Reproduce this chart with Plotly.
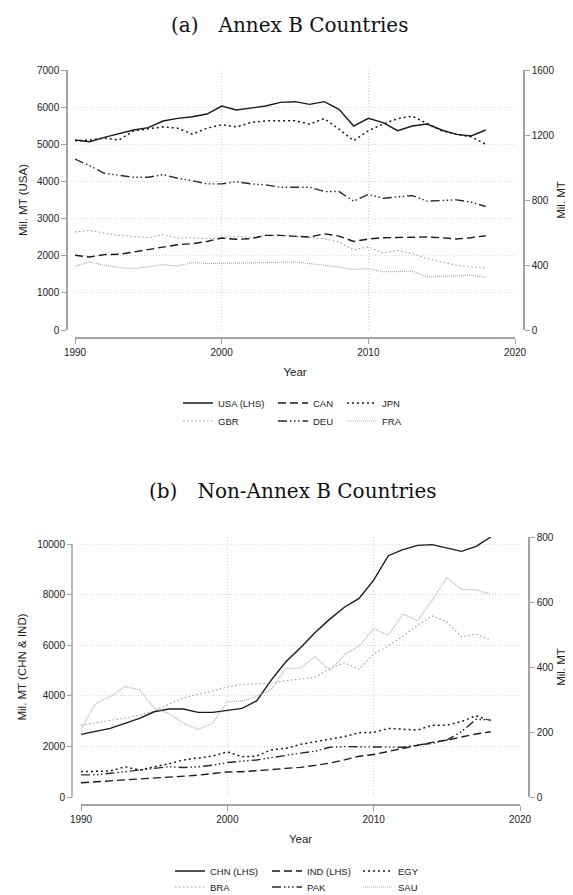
import plotly.graph_objects as go

# The page body has an 8px margin, so the figure is drawn 8px in from the
# top-left corner of the 573x895 window; positions below are window pixels.
OFF = 8
W, H = 573 - OFF, 895 - OFF


def px(x):
    return (x - OFF) / W


def py(y):
    return 1 - (y - OFF) / H


years = [1990, 1991, 1992, 1993, 1994, 1995, 1996, 1997, 1998, 1999,
         2000, 2001, 2002, 2003, 2004, 2005, 2006, 2007, 2008, 2009,
         2010, 2011, 2012, 2013, 2014, 2015, 2016, 2017, 2018]

# ---- (a) Annex B countries (USA on LHS, others on RHS) ----
usa = [5115, 5070, 5187, 5295, 5385, 5447, 5627, 5698, 5743, 5815,
       6030, 5923, 5968, 6030, 6129, 6147, 6075, 6147, 5941, 5492,
       5698, 5582, 5366, 5492, 5546, 5385, 5268, 5223, 5385]
can = [460, 449, 464, 466, 480, 496, 511, 525, 531, 545,
       566, 558, 562, 582, 582, 578, 572, 592, 578, 545,
       560, 568, 570, 572, 572, 568, 560, 568, 580]
jpn = [1165, 1169, 1181, 1169, 1226, 1236, 1250, 1242, 1205, 1242,
       1263, 1250, 1277, 1287, 1287, 1287, 1267, 1301, 1236, 1165,
       1226, 1267, 1301, 1316, 1271, 1226, 1205, 1189, 1144]
gbr = [603, 613, 597, 582, 576, 568, 588, 566, 568, 562,
       566, 578, 568, 582, 582, 576, 572, 562, 541, 494,
       511, 474, 490, 470, 439, 419, 398, 388, 382]
deu = [1052, 1011, 964, 954, 940, 940, 956, 934, 919, 899,
       899, 913, 899, 893, 878, 878, 878, 852, 852, 793,
       834, 811, 817, 827, 793, 797, 801, 787, 760]
fra = [392, 419, 398, 384, 378, 388, 402, 394, 415, 409,
       409, 409, 413, 415, 417, 419, 409, 398, 388, 372,
       378, 358, 358, 362, 327, 331, 333, 337, 323]

# ---- (b) Non-Annex B countries (CHN & IND on LHS, others on RHS) ----
chn = [2476, 2580, 2712, 2910, 3107, 3370, 3476, 3476, 3344, 3344,
       3437, 3502, 3800, 4620, 5345, 5900, 6500, 7030, 7500, 7850,
       8570, 9538, 9775, 9947, 9974, 9841, 9709, 9907, 10277]
ind = [565, 600, 635, 660, 700, 737, 790, 830, 860, 930,
       990, 1000, 1027, 1080, 1133, 1170, 1250, 1340, 1470, 1610,
       1680, 1800, 1930, 2050, 2160, 2250, 2380, 2490, 2580]
egy = [78, 78, 80, 93, 83, 93, 102, 114, 121, 126,
       139, 124, 126, 145, 150, 162, 170, 178, 186, 198,
       199, 211, 208, 206, 221, 221, 232, 250, 234]
bra = [221, 228, 235, 243, 252, 265, 285, 305, 316, 326,
       339, 346, 348, 350, 358, 362, 368, 396, 413, 393,
       440, 465, 495, 529, 557, 539, 493, 501, 483]
pak = [68, 68, 73, 78, 85, 88, 93, 91, 93, 98,
       106, 110, 114, 121, 129, 135, 141, 153, 155, 154,
       153, 153, 153, 160, 165, 175, 201, 239, 237]
sau = [208, 288, 309, 340, 330, 273, 257, 227, 208, 227,
       293, 295, 310, 330, 396, 397, 432, 389, 437, 465,
       517, 498, 563, 543, 606, 675, 639, 637, 624]

x_ticks = [1990, 2000, 2010, 2020]
yl_ticks_b = [0, 2000, 4000, 6000, 8000, 10000]

SOLID = dict(color="#1a1a1a", dash="solid", width=1.4)
LDASH = dict(color="#1a1a1a", dash="8px,4px", width=1.4)
DOT = dict(color="#1a1a1a", dash="2px,3px", width=1.5)
GDOT = dict(color="#9a9a9a", dash="1.5px,2.5px", width=1.1)
DDOT = dict(color="#2a2a2a", dash="9px,3px,1.5px,2.5px,1.5px,2.5px,1.5px,3px", width=1.4)
FDOT = dict(color="#aaaaaa", dash="1px,1px", width=1.2)

fig = go.Figure()

# legend slot for each series: (legend id, text-start px, row-centre px)
legend_slots = {}


def add(name, y, xa, ya, style, leg, tx, ty):
    fig.add_trace(go.Scatter(x=years, y=y, name=name, mode="lines",
                             xaxis=xa, yaxis=ya, line=style, legend=leg))
    legend_slots[leg] = (tx, ty)


add("USA (LHS)", usa, "x", "y", SOLID, "legend", 218, 403)
add("GBR", gbr, "x", "y2", GDOT, "legend2", 218, 421)
add("CAN", can, "x", "y2", LDASH, "legend3", 313, 403)
add("DEU", deu, "x", "y2", DDOT, "legend4", 313, 421)
add("JPN", jpn, "x", "y2", DOT, "legend5", 382, 403)
add("FRA", fra, "x", "y2", FDOT, "legend6", 382, 421)

add("CHN (LHS)", chn, "x3", "y3", SOLID, "legend7", 210, 871)
add("BRA", bra, "x3", "y4", GDOT, "legend8", 210, 887)
add("IND (LHS)", ind, "x3", "y3", LDASH, "legend9", 307, 871)
add("PAK", pak, "x3", "y4", DDOT, "legend10", 307, 887)
add("EGY", egy, "x3", "y4", DOT, "legend11", 398, 871)
add("SAU", sau, "x3", "y4", FDOT, "legend12", 398, 887)

SANS = "Liberation Sans, Arial, sans-serif"
AX = dict(showline=True, linecolor="#a3a3a3", linewidth=1.5,
          ticks="outside", ticklen=5, tickwidth=1.2, tickcolor="#a3a3a3",
          tickfont=dict(family=SANS, size=10, color="#222"),
          gridcolor="#d4d4d4", griddash="1px,2px", gridwidth=1,
          zeroline=False, anchor="free", automargin=False, tickformat="d")
TITLE_FONT = dict(family=SANS, size=11.5, color="#222")

fig.update_layout(
    width=W, height=H, margin=dict(l=0, r=0, t=0, b=0, autoexpand=False),
    paper_bgcolor="white", plot_bgcolor="white",
    xaxis=dict(AX, domain=[px(75), px(515)], position=py(338), range=[1990, 2020],
               tickvals=x_ticks, showgrid=True,
               title=dict(text="Year", font=TITLE_FONT, standoff=10)),
    yaxis=dict(AX, domain=[py(330), py(70)], position=px(67), range=[0, 7000],
               dtick=1000, showgrid=True,
               title=dict(text="Mil. MT (USA)", font=TITLE_FONT, standoff=6)),
    yaxis2=dict(AX, overlaying="y", side="right", position=px(524), range=[0, 1600],
                dtick=400, showgrid=False,
                title=dict(text="Mil. MT", font=TITLE_FONT, standoff=3)),
    xaxis3=dict(AX, domain=[px(81), px(520)], position=py(805), range=[1990, 2020],
                tickvals=x_ticks, showgrid=True,
                title=dict(text="Year", font=TITLE_FONT, standoff=10)),
    yaxis3=dict(AX, domain=[py(797), py(537)], position=px(72), range=[0, 10277],
                tickvals=yl_ticks_b, showgrid=True, showline=False,
                title=dict(text="Mil. MT (CHN &amp; IND)", font=TITLE_FONT, standoff=7)),
    yaxis4=dict(AX, overlaying="y3", side="right", position=px(529), range=[0, 800],
                dtick=200, showgrid=False,
                title=dict(text="Mil. MT", font=TITLE_FONT, standoff=3)),
    showlegend=True,
)

# left axis line of panel (b) spans only the labelled range 0..10000
fig.add_shape(type="line", xref="paper", yref="y3", x0=px(72), x1=px(72),
              y0=yl_ticks_b[0], y1=yl_ticks_b[-1],
              line=dict(color="#a3a3a3", width=1.5))

LEG = dict(xanchor="left", yanchor="middle", bgcolor="rgba(0,0,0,0)", borderwidth=0,
           font=dict(family=SANS, size=9.5, color="#222"), itemwidth=30,
           orientation="v", tracegroupgap=0)
fig.update_layout(**{k: dict(LEG, x=px(tx - 40), y=py(ty)) for k, (tx, ty) in legend_slots.items()})

SERIF = "DejaVu Serif, Liberation Serif, serif"
fig.add_annotation(text="(a)\u2003Annex B Countries", xref="paper", yref="paper",
                   x=px(289), y=py(25), showarrow=False, xanchor="center", yanchor="middle",
                   font=dict(family=SERIF, size=20, color="#111"))
fig.add_annotation(text="(b)\u2003Non-Annex B Countries", xref="paper", yref="paper",
                   x=px(293), y=py(491), showarrow=False, xanchor="center", yanchor="middle",
                   font=dict(family=SERIF, size=20, color="#111"))

fig.write_html("out.html")
